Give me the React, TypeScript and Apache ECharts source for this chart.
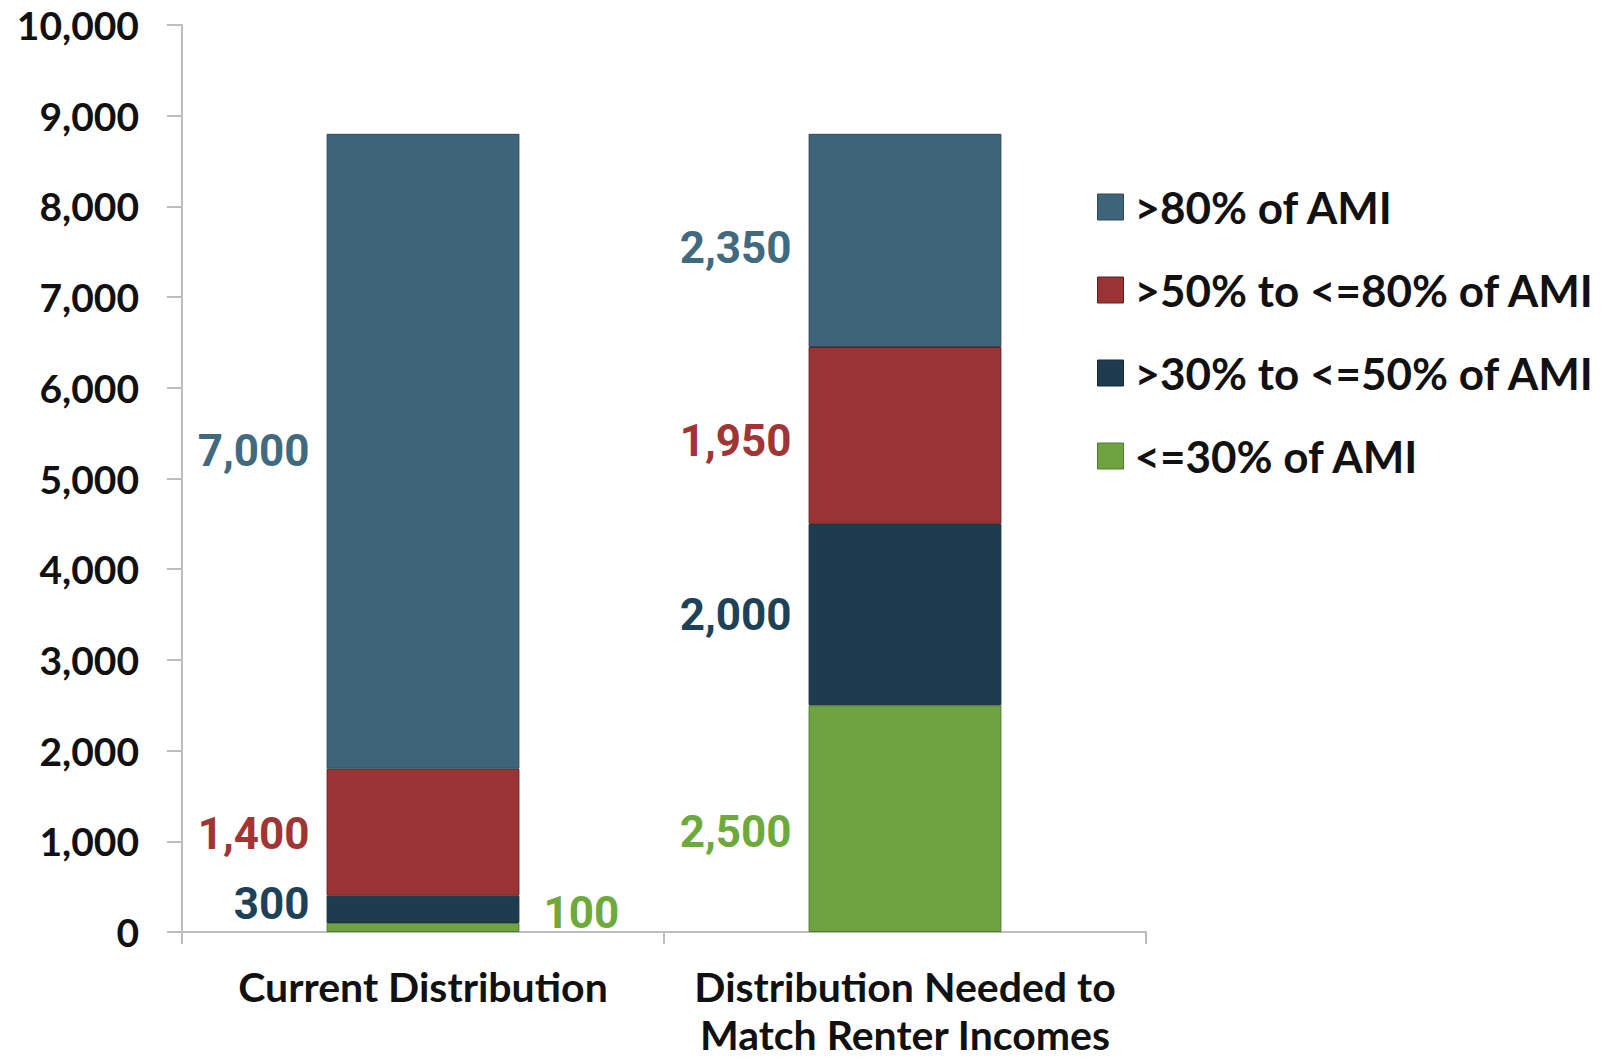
import React, { useEffect, useRef } from "react";
import * as echarts from "echarts";

const categories = ["Current Distribution", "Distribution Needed to\nMatch Renter Incomes"];
const seriesNames = [">80% of AMI", ">50% to <=80% of AMI", ">30% to <=50% of AMI", "<=30% of AMI"];
const lowest = [100, 2500]; // <=30%
const low = [300, 2000]; // >30% to <=50%
const mid = [1400, 1950]; // >50% to <=80%
const high = [7000, 2350]; // >80%
const yTicks = [0, 10000, 1000];

const colors = {
  high: "#3D6478",
  mid: "#9A3434",
  low: "#1D3C4F",
  lowest: "#6FA341",
};
const labelColors = {
  high: "#3F6A80",
  mid: "#A03535",
  low: "#1D4257",
  lowest: "#6DAA3C",
};
const borders = {
  high: "#2E4A59",
  mid: "#5E2020",
  low: "#142A38",
  lowest: "#4F7A2E",
};

const valueFont = "Roboto, sans-serif";
const textFont = "Lato, 'Open Sans', sans-serif";

function fmt(v: number) {
  return v.toLocaleString("en-US");
}

export default function App() {
  const ref = useRef<HTMLDivElement>(null);
  useEffect(() => {
    if (!ref.current) return;
    const chart = echarts.init(ref.current, null, { renderer: "svg" });

    const mk = (
      name: string,
      key: "high" | "mid" | "low" | "lowest",
      values: number[],
      positions: string[],
      offsets: number[][]
    ) => ({
      name,
      type: "bar",
      stack: "total",
      barWidth: "40%",
      itemStyle: { color: colors[key], borderColor: borders[key], borderWidth: 1 },
      data: values.map((v, i) => ({
        value: v,
        label: {
          show: true,
          position: positions[i],
          distance: positions[i] === "right" ? 24 : 17,
          offset: offsets[i],
          formatter: fmt(v),
          color: labelColors[key],
          fontFamily: valueFont,
          fontWeight: "bold",
          fontSize: 44,
        },
      })),
    });

    const seriesList = [
      mk(seriesNames[3], "lowest", lowest, ["right", "left"], [[0, -14], [0, 13]]),
      mk(seriesNames[2], "low", low, ["left", "left"], [[0, -5], [0, 0]]),
      mk(seriesNames[1], "mid", mid, ["left", "left"], [[0, 2], [0, 6]]),
      mk(seriesNames[0], "high", high, ["left", "left"], [[0, 0], [0, 8]]),
    ];

    chart.setOption({
      animation: false,
      backgroundColor: "#ffffff",
      grid: {
        left: 182,
        right: 473,
        top: 25,
        bottom: 127,
        containLabel: false,
        outerBoundsMode: "none",
      },
      legend: {
        orient: "vertical",
        left: 1097,
        top: 185,
        padding: 0,
        itemWidth: 26,
        itemHeight: 26,
        itemGap: 39,
        icon: "rect",
        data: seriesNames.map((n, i) => ({
          name: n,
          itemStyle: {
            borderColor: [borders.high, borders.mid, borders.low, borders.lowest][i],
            borderWidth: 1,
          },
        })),
        textStyle: {
          fontFamily: textFont,
          fontWeight: "bold",
          fontSize: 44,
          lineHeight: 44,
          color: "#111111",
          padding: [0, 0, 0, 6],
        },
      },
      xAxis: {
        type: "category",
        data: categories,
        axisLine: { lineStyle: { color: "#BDBDBD", width: 2 } },
        axisTick: { show: true, length: 12, lineStyle: { color: "#BDBDBD", width: 2 } },
        axisLabel: {
          interval: 0,
          hideOverlap: false,
          margin: 30,
          fontFamily: textFont,
          fontWeight: "bold",
          fontSize: 41,
          lineHeight: 48,
          color: "#111111",
        },
      },
      yAxis: {
        type: "value",
        min: yTicks[0],
        max: yTicks[1],
        interval: yTicks[2],
        splitLine: { show: false },
        axisLine: { show: true, lineStyle: { color: "#BDBDBD", width: 2 } },
        axisTick: { show: true, length: 15, lineStyle: { color: "#BDBDBD", width: 2 } },
        axisLabel: {
          margin: 43,
          formatter: (v: number) => fmt(v),
          fontFamily: textFont,
          fontWeight: "bold",
          fontSize: 39,
          color: "#111111",
        },
      },
      series: seriesList,
    });

    return () => chart.dispose();
  }, []);

  return (
    <div
      ref={ref}
      style={{ position: "fixed", left: 0, top: 0, width: 1619, height: 1059 }}
    />
  );
}
